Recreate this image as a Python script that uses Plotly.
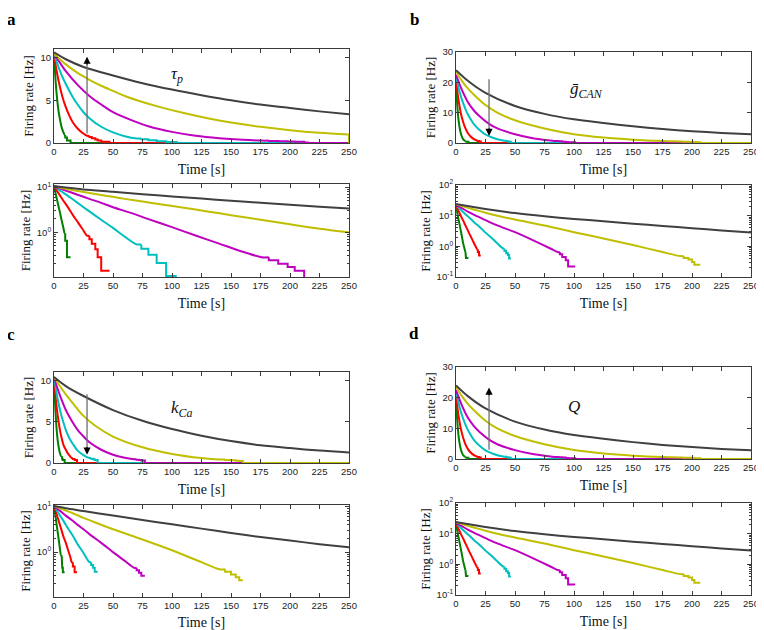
import plotly.graph_objects as go

W, H = 764, 630
OFF = 8  # default page margin around the plot div
COLORS = ['#007f00', '#ff0000', '#00bfbf', '#bf00bf', '#bfbf00', '#404040']

# ---- panel a (tau_p) ----
a_green_t = [0, 1, 2, 3, 4, 5, 6, 7, 8, 9, 9.5, 9.5, 11, 11, 14, 14, 250]
a_green_r = [10.4, 8.0, 6.1, 4.7, 3.6, 2.8, 2.1, 1.6, 1.25, 0.95, 0.95, 0.65, 0.65, 0.28, 0.28, 0, 0]
a_red_t = [0, 2, 4, 6, 8, 10, 13, 16, 20, 24, 28, 30, 30, 32, 32, 35, 35, 37, 37, 40, 40, 47, 47, 250]
a_red_r = [10.4, 8.6, 7.2, 6.0, 5.0, 4.2, 3.2, 2.4, 1.7, 1.2, 0.84, 0.84, 0.7, 0.7, 0.56, 0.56, 0.42, 0.42, 0.28, 0.28, 0.14, 0.14, 0, 0]
a_cyan_t = [0, 3, 6, 10, 15, 20, 25, 30, 40, 50, 60, 70, 74, 74, 80, 80, 87, 87, 95, 95, 104, 104, 250]
a_cyan_r = [10.4, 9.2, 8.1, 6.9, 5.6, 4.5, 3.6, 2.9, 1.9, 1.25, 0.8, 0.54, 0.54, 0.43, 0.43, 0.32, 0.32, 0.21, 0.21, 0.107, 0.107, 0, 0]
a_mag_t = [0, 5, 10, 20, 30, 40, 50, 65, 80, 100, 120, 140, 160, 176, 182, 182, 190, 190, 198, 198, 204, 204, 212, 212, 215, 215, 250]
a_mag_r = [10.4, 9.4, 8.4, 6.8, 5.5, 4.5, 3.6, 2.7, 1.96, 1.3, 0.85, 0.56, 0.37, 0.28, 0.28, 0.24, 0.24, 0.2, 0.2, 0.17, 0.17, 0.14, 0.14, 0.07, 0.07, 0, 0]
a_olive_t = [0, 5, 10, 20, 30, 40, 50, 60, 75, 90, 110, 130, 150, 175, 200, 225, 250, 250]
a_olive_r = [10.4, 9.8, 9.2, 8.2, 7.4, 6.7, 6.1, 5.5, 4.8, 4.2, 3.5, 2.9, 2.4, 1.9, 1.5, 1.2, 1.0, 0]
a_gray_t = [0, 10, 25, 50, 75, 100, 125, 150, 175, 200, 225, 250]
a_gray_r = [10.6, 9.8, 8.9, 7.9, 7.0, 6.25, 5.6, 5.0, 4.5, 4.1, 3.7, 3.35]

# ---- panel b (g_CAN) ----
b_green_t = [0, 1, 2, 3, 4, 5, 6, 7, 8, 8, 8.5, 8.5, 10.5, 10.5, 250]
b_green_r = [20, 12.8, 8.1, 5.2, 3.3, 2.1, 1.3, 0.9, 0.65, 0.55, 0.55, 0.42, 0.42, 0, 0]
b_red_t = [0, 1, 2, 3, 4, 6, 8, 10, 12, 14, 16, 18, 18.5, 18.5, 19.5, 19.5, 21, 21, 250]
b_red_r = [21, 17.5, 14.5, 12.2, 10, 7, 4.8, 3.3, 2.3, 1.6, 1.1, 0.8, 0.8, 0.65, 0.65, 0.5, 0.5, 0, 0]
b_cyan_t = [0, 2, 4, 6, 8, 10, 13, 16, 20, 25, 30, 35, 40, 41, 41, 42.5, 42.5, 44, 44, 45, 45, 46.5, 46.5, 250]
b_cyan_r = [22, 18.5, 15.6, 13.2, 11.2, 9.5, 7.5, 5.8, 4.3, 2.8, 1.9, 1.25, 0.85, 0.85, 0.72, 0.72, 0.6, 0.6, 0.52, 0.52, 0.4, 0.4, 0, 0]
b_mag_t = [0, 5, 10, 15, 20, 28, 35, 50, 65, 80, 86, 88, 88, 90, 90, 93, 93, 95, 95, 101, 101, 250]
b_mag_r = [22.5, 17.5, 13.5, 10.8, 8.8, 6.3, 4.8, 2.9, 1.6, 0.85, 0.65, 0.65, 0.55, 0.55, 0.45, 0.45, 0.35, 0.35, 0.22, 0.22, 0, 0]
b_olive_t = [0, 5, 10, 15, 25, 35, 50, 75, 100, 125, 150, 175, 190, 193, 193, 197, 197, 200, 200, 202, 202, 207, 207, 250]
b_olive_r = [23.5, 20.5, 18, 16, 12.5, 10.0, 7.5, 4.8, 2.9, 1.8, 1.1, 0.65, 0.48, 0.48, 0.42, 0.42, 0.37, 0.37, 0.31, 0.31, 0.25, 0.25, 0, 0]
b_gray_t = [0, 10, 25, 50, 75, 100, 125, 150, 175, 200, 225, 250]
b_gray_r = [24, 20.5, 16.5, 12.2, 9.6, 7.8, 6.6, 5.5, 4.6, 3.9, 3.3, 2.85]

# ---- panel c (k_Ca) ----
c_green_t = [0, 0.5, 1, 1.5, 2, 3, 4, 5, 6, 6.5, 6.5, 7, 7, 7.5, 7.5, 9, 9, 250]
c_green_r = [10.4, 8.6, 6.9, 5.7, 4.5, 2.9, 1.9, 1.2, 0.85, 0.85, 0.6, 0.6, 0.45, 0.45, 0.36, 0.36, 0, 0]
c_red_t = [0, 1, 2, 3, 4, 5, 6, 8, 10, 12, 14, 15, 16, 16, 17.5, 17.5, 19.5, 19.5, 250]
c_red_r = [10.4, 8.6, 7.1, 5.9, 4.9, 4.0, 3.3, 2.2, 1.6, 1.1, 0.75, 0.6, 0.6, 0.48, 0.48, 0.36, 0.36, 0, 0]
c_cyan_t = [0, 2, 4, 6, 8, 10, 13, 16, 20, 25, 30, 31.5, 31.5, 33, 33, 34.5, 34.5, 37, 37, 250]
c_cyan_r = [10.4, 8.6, 7.1, 5.9, 4.9, 4.0, 3.0, 2.3, 1.5, 0.96, 0.6, 0.6, 0.52, 0.52, 0.45, 0.45, 0.37, 0.37, 0, 0]
c_mag_t = [0, 3, 6, 10, 15, 20, 25, 30, 40, 50, 60, 68, 70, 70, 72, 72, 74, 74, 77, 77, 250]
c_mag_r = [10.4, 9.0, 7.8, 6.4, 5.1, 4.0, 3.2, 2.5, 1.6, 1.0, 0.64, 0.45, 0.45, 0.4, 0.4, 0.35, 0.35, 0.3, 0.3, 0, 0]
c_olive_t = [0, 5, 10, 15, 20, 25, 35, 50, 75, 100, 125, 140, 145, 145, 150, 150, 154, 154, 157, 157, 160, 160, 250]
c_olive_r = [10.4, 9.3, 8.3, 7.4, 6.5, 5.7, 4.5, 3.2, 1.9, 1.1, 0.6, 0.42, 0.42, 0.37, 0.37, 0.32, 0.32, 0.28, 0.28, 0.24, 0.24, 0, 0]
c_gray_t = [0, 10, 25, 50, 75, 100, 125, 150, 175, 200, 225, 250]
c_gray_r = [10.4, 9.3, 8.1, 6.4, 5.1, 4.1, 3.3, 2.65, 2.15, 1.8, 1.5, 1.28]

a_time = [a_green_t, a_red_t, a_cyan_t, a_mag_t, a_olive_t, a_gray_t]
a_rate = [a_green_r, a_red_r, a_cyan_r, a_mag_r, a_olive_r, a_gray_r]
b_time = [b_green_t, b_red_t, b_cyan_t, b_mag_t, b_olive_t, b_gray_t]
b_rate = [b_green_r, b_red_r, b_cyan_r, b_mag_r, b_olive_r, b_gray_r]
c_time = [c_green_t, c_red_t, c_cyan_t, c_mag_t, c_olive_t, c_gray_t]
c_rate = [c_green_r, c_red_r, c_cyan_r, c_mag_r, c_olive_r, c_gray_r]
# panel d (Q) looks the same as b
d_time = b_time
d_rate = b_rate

x_ticks = [0, 25, 50, 75, 100, 125, 150, 175, 200, 225, 250]

panels = [
    dict(T=a_time, R=a_rate, lin_range=[0, 11], lin_ticks=[0, 5, 10],
         log_range=[-0.99, 1.07], log_ticks=[1, 10],
         lin_box=(54, 349, 49, 143), log_box=(54, 349, 184, 277),
         letter='a', letter_xy=(11, None),
         sym='<i>τ<sub>p</sub></i>', sym_xy=(104, 7.9), arrow=(28, 1.1, 10.1)),
    dict(T=b_time, R=b_rate, lin_range=[0, 30], lin_ticks=[0, 10, 20, 30],
         log_range=[-1, 2], log_ticks=[0.1, 1, 10, 100],
         lin_box=(456, 751, 52, 143), log_box=(456, 751, 185, 277),
         letter='b', letter_xy=(414, None),
         sym='<i>ḡ<sub>CAN</sub></i>', sym_xy=(111, 17.5), arrow=(28, 21, 2.3)),
    dict(T=c_time, R=c_rate, lin_range=[0, 11], lin_ticks=[0, 5, 10],
         log_range=[-0.99, 1.04], log_ticks=[1, 10],
         lin_box=(54, 349, 372, 463), log_box=(54, 349, 505, 597),
         letter='c', letter_xy=(11, 334),
         sym='<i>k<sub>Ca</sub></i>', sym_xy=(108, 6.5), arrow=(28, 8.3, 1.0)),
    dict(T=d_time, R=d_rate, lin_range=[0, 30], lin_ticks=[0, 10, 20, 30],
         log_range=[-1, 2], log_ticks=[0.1, 1, 10, 100],
         lin_box=(456, 751, 367, 459), log_box=(456, 751, 503, 595),
         letter='d', letter_xy=(414, 333),
         sym='<i>Q</i>', sym_xy=(100, 17.1), arrow=(28, 3.0, 23.3)),
]

pow_text = {0.1: '10<sup>-1</sup>', 1: '10<sup>0</sup>', 10: '10<sup>1</sup>', 100: '10<sup>2</sup>'}
minor_vals = [m * 10 ** k for k in (-1, 0, 1) for m in range(2, 10)]

SANS = 'Liberation Sans, Arial, sans-serif'
SERIF = 'Liberation Serif, Times New Roman, serif'
AX_COL = '#3a3a3a'

FW, FH = W - OFF, H - OFF

fig = go.Figure()
layout = {}
annotations = []
shapes = []


def dom(box):
    x0, x1, y0, y1 = box
    return ([(x0 - OFF) / FW, (x1 - OFF) / FW],
            [1 - (y1 - OFF) / FH, 1 - (y0 - OFF) / FH])


def axis_common():
    return dict(showline=True, mirror='ticks', linecolor=AX_COL, linewidth=1,
                ticks='inside', ticklen=4, tickcolor=AX_COL, showgrid=False,
                zeroline=False, automargin=False, ticklabeloverflow='allow',
                tickfont=dict(family=SANS, size=9.5, color='#222'))


def split_curve(t, r):
    # smooth decay up to the first repeated time, then the stepped tail
    k = len(t)
    for i in range(1, len(t)):
        if t[i] == t[i - 1]:
            k = i
            break
    return (t[:k], r[:k]), (t[k - 1:], r[k - 1:])


for i, p in enumerate(panels):
    for j, kind in enumerate(['lin', 'log']):
        n = 2 * i + j + 1
        xa = 'x' if n == 1 else 'x%d' % n
        ya = 'y' if n == 1 else 'y%d' % n
        for t, r, col in zip(p['T'], p['R'], COLORS):
            (ts, rs), (tt, rt) = split_curve(t, r)
            for (xs, ys, shape) in [(ts, rs, 'spline'), (tt, rt, 'linear')]:
                if len(xs) < 2:
                    continue
                if kind == 'log':
                    pts = [(a, b) for a, b in zip(xs, ys) if b > 0]
                    xs = [q[0] for q in pts]
                    ys = [q[1] for q in pts]
                fig.add_trace(go.Scatter(x=xs, y=ys, mode='lines', xaxis=xa, yaxis=ya,
                                         line=dict(color=col, width=2, shape=shape, smoothing=0.8),
                                         showlegend=False, hoverinfo='skip'))
        xd, yd = dom(p[kind + '_box'])
        xax = axis_common()
        xax.update(domain=xd, anchor=ya, range=[0, 250], tickmode='array', tickvals=x_ticks,
                   title=dict(text='Time [s]', font=dict(family=SERIF, size=14, color='#111'), standoff=7))
        yax = axis_common()
        yax.update(domain=yd, anchor=xa,
                   title=dict(text='Firing rate [Hz]', font=dict(family=SERIF, size=13, color='#111'), standoff=3))
        if kind == 'lin':
            yax.update(range=p['lin_range'], tickmode='array', tickvals=p['lin_ticks'])
        else:
            yax.update(type='log', range=p['log_range'], tickmode='array', tickvals=p['log_ticks'],
                       ticktext=[pow_text[v] for v in p['log_ticks']],
                       minor=dict(ticks='inside', ticklen=2, tickcolor=AX_COL, tickmode='array',
                                  tickvals=minor_vals))
        layout['xaxis' if n == 1 else 'xaxis%d' % n] = xax
        layout['yaxis' if n == 1 else 'yaxis%d' % n] = yax

        if kind == 'lin':
            tx, y_tail, y_tip = p['arrow']
            head_len = 1.1 if p['lin_range'][1] < 20 else 3.0
            sign = 1 if y_tip > y_tail else -1
            shapes.append(dict(type='line', xref=xa, yref=ya, x0=tx, x1=tx, y0=y_tail,
                               y1=y_tip - sign * head_len * 0.5,
                               line=dict(color='#6e6e6e', width=1.3)))
            annotations.append(dict(xref=xa, yref=ya, axref=xa, ayref=ya, x=tx, y=y_tip,
                                    ax=tx, ay=y_tip - sign * head_len, text='', showarrow=True,
                                    arrowhead=2, arrowsize=1.1, arrowwidth=1.3, arrowcolor='#000'))
            sx, sy = p['sym_xy']
            annotations.append(dict(xref=xa, yref=ya, x=sx, y=sy, text=p['sym'], showarrow=False,
                                    font=dict(family=SERIF, size=17, color='#111')))

    lx, ly = p['letter_xy']
    if ly is None:
        # top-row letters sit right at the top edge of the page
        ypos, yanc = 1, 'top'
    else:
        ypos, yanc = 1 - (ly - OFF) / FH, 'middle'
    annotations.append(dict(xref='paper', yref='paper', x=(lx - OFF) / FW, y=ypos,
                            text='<b>%s</b>' % p['letter'], showarrow=False,
                            xanchor='center', yanchor=yanc,
                            font=dict(family=SERIF, size=17, color='#000')))

fig.update_layout(**layout)
fig.update_layout(width=FW, height=FH, margin=dict(l=0, r=0, t=0, b=0),
                  paper_bgcolor='white', plot_bgcolor='white',
                  annotations=annotations, shapes=shapes)

fig.write_html("out.html")
